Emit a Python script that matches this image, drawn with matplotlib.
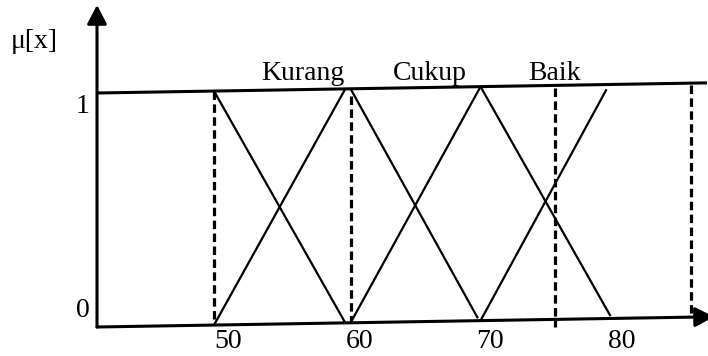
import math
import matplotlib
matplotlib.use('Agg')
import matplotlib.pyplot as plt
from matplotlib.transforms import Affine2D, blended_transform_factory

# ---- data ----
x_ticks = [50, 60, 70, 80]
tick_labels = ['50', '60', '70', '80']
mu_labels = ['0', '1']
set_names = ['Kurang', 'Cukup', 'Baik']
# membership line segments
seg_x0 = [50, 50, 60.4, 60.4, 70.3, 70.3]
seg_x1 = [60, 60, 70.1, 70.3, 80.2, 79.9]
seg_mu0 = [1, 0, 1, 0, 1, 0]
seg_mu1 = [0, 1, 0.01, 1, 0.01, 0.98]
# dashed guide lines
guide_x = [50, 60.4, 76, 86.3]
guide_top = [1, 0.97, 0.99, 0.99]
guide_bottom = [0, 0, -0.033, 0]

# ---- layout ----
plt.rcParams['font.family'] = ['Liberation Serif', 'DejaVu Serif']
plt.rcParams['lines.scale_dashes'] = False
FS = 20

W, H = 708, 356
fig = plt.figure(figsize=(W / 100, H / 100), dpi=100)
ax = fig.add_axes([0, 0, 1, 1])
ax.set_axis_off()

PX_X = 13.13          # pixels per x unit
PX_MU = 234.0         # pixels per membership unit
X_LEFT = 50 - 214 / PX_X
ax.set_xlim(X_LEFT, X_LEFT + W / PX_X)
MU_BOTTOM = -(H - 327) / PX_MU
ax.set_ylim(MU_BOTTOM, MU_BOTTOM + H / PX_MU)

X0 = 50 - 117 / PX_X          # position of the vertical axis
X_END = X_LEFT + 707 / PX_X   # end of top line
X_TIP = X_LEFT + 714 / PX_X   # x-axis arrow tip
MU_TIP = (H - 5 - (H - 327)) / PX_MU

k = 0.0166 * PX_X / PX_MU      # slant of the drawing
skew = Affine2D().translate(-X0, 0).skew(0, math.atan(k)).translate(X0, 0) + ax.transData

# axes with arrows
arrow_style = '-|>,head_length=1.15,head_width=0.6'
ax.annotate('', xy=(X0, MU_TIP), xytext=(X0, 0), xycoords=skew, textcoords=skew,
            arrowprops=dict(arrowstyle=arrow_style, lw=2.2, color='k',
                            shrinkA=0, shrinkB=0, mutation_scale=10),
            annotation_clip=False)
ax.annotate('', xy=(X_TIP, 0), xytext=(X0, 0), xycoords=skew, textcoords=skew,
            arrowprops=dict(arrowstyle=arrow_style, lw=2.2, color='k',
                            shrinkA=0, shrinkB=0, mutation_scale=10),
            annotation_clip=False)

# top line (membership = 1)
ax.plot([X0, X_END], [1, 1], transform=skew, color='k', lw=2.2,
        solid_capstyle='butt')

# membership lines
for a, b, m0, m1 in zip(seg_x0, seg_x1, seg_mu0, seg_mu1):
    ax.plot([a, b], [m0, m1], transform=skew, color='k', lw=1.6,
            solid_capstyle='butt')

# dashed guides
for gx, gb, gt in zip(guide_x, guide_bottom, guide_top):
    ax.plot([gx, gx], [gt, gb], transform=skew, color='k', lw=2.3,
            linestyle=(0, (6.1, 3.2)), dash_capstyle='butt')

# text
bt = blended_transform_factory(ax.transData, ax.transAxes)
for v, lab in zip(x_ticks, tick_labels):
    ax.text(v, 1 - 348 / H, lab, transform=bt, ha='left', va='baseline',
            fontsize=FS)

label_x = [56.74, 66.41, 75.97]
for lx, name in zip(label_x, set_names):
    ax.text(lx, 1 - 80 / H, name, transform=bt, ha='center', va='baseline',
            fontsize=FS)

ax.text(83 / W, 1 - 113 / H, mu_labels[1], transform=ax.transAxes,
        ha='center', va='baseline', fontsize=FS)
ax.text(82.5 / W, 1 - 317 / H, mu_labels[0], transform=ax.transAxes,
        ha='center', va='baseline', fontsize=FS)
ax.text(34 / W, 1 - 48 / H, 'μ[x]', transform=ax.transAxes,
        ha='center', va='baseline', fontsize=FS)

fig.savefig('out.png', dpi=100)
